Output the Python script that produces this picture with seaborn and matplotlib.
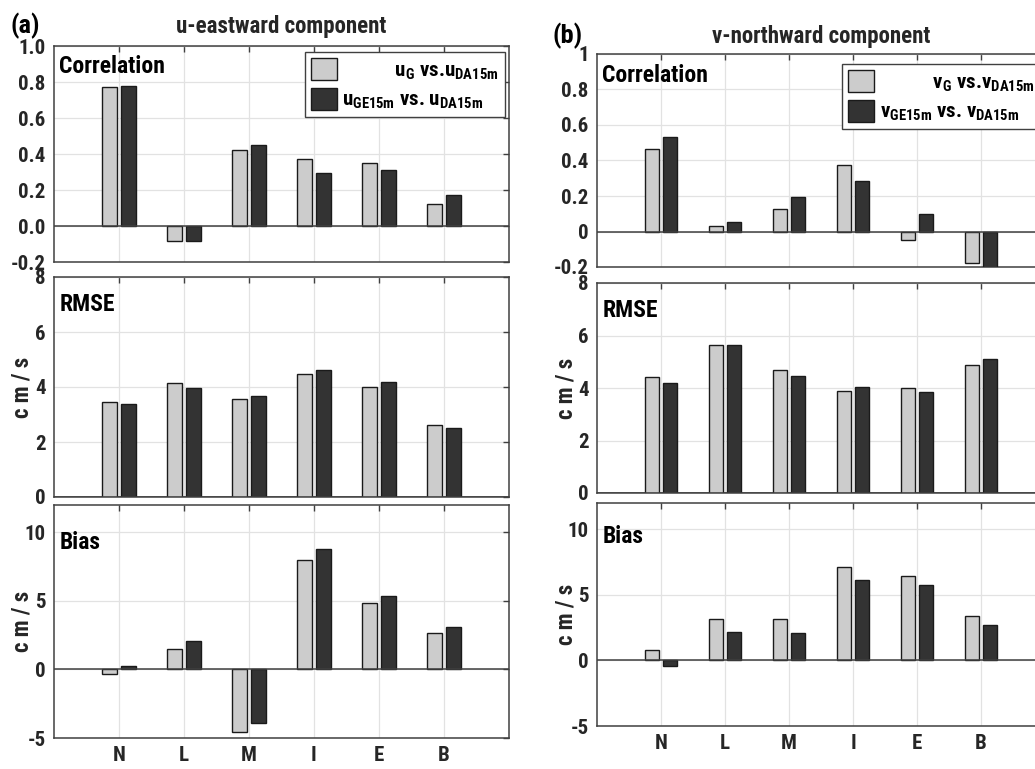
import numpy as np
import pandas as pd
import matplotlib
matplotlib.use("Agg")
import matplotlib.pyplot as plt
from matplotlib import font_manager as fm
import seaborn as sns

# ---------------- data ----------------
sites = ["N", "L", "M", "I", "E", "B"]

u_corr_G = [0.77, -0.085, 0.42, 0.375, 0.35, 0.125]
u_corr_GE = [0.78, -0.085, 0.452, 0.297, 0.311, 0.171]
u_rmse_G = [3.44, 4.16, 3.55, 4.48, 4.01, 2.62]
u_rmse_GE = [3.39, 3.96, 3.66, 4.63, 4.17, 2.52]
u_bias_G = [-0.31, 1.52, -4.59, 8.02, 4.88, 2.63]
u_bias_GE = [0.22, 2.10, -3.89, 8.77, 5.39, 3.07]

v_corr_G = [0.464, 0.032, 0.125, 0.372, -0.047, -0.178]
v_corr_GE = [0.535, 0.054, 0.193, 0.286, 0.101, -0.21]
v_rmse_G = [4.42, 5.62, 4.69, 3.90, 4.00, 4.89]
v_rmse_GE = [4.20, 5.63, 4.47, 4.05, 3.85, 5.11]
v_bias_G = [0.76, 3.16, 3.16, 7.10, 6.46, 3.36]
v_bias_GE = [-0.43, 2.20, 2.10, 6.16, 5.76, 2.73]

u_labels = ["           $u_{G}$ vs.$u_{DA15m}$", "$u_{GE15m}$ vs. $u_{DA15m}$"]
v_labels = ["           $v_{G}$ vs.$v_{DA15m}$", "$v_{GE15m}$ vs. $v_{DA15m}$"]

corr_ticks = [-0.2, 0.0, 0.2, 0.4, 0.6, 0.8, 1.0]
u_corr_ticklabels = ["-0.2", "0.0", "0.2", "0.4", "0.6", "0.8", "1.0"]
v_corr_ticklabels = ["-0.2", "0", "0.2", "0.4", "0.6", "0.8", "1"]
rmse_ticks = [0, 2, 4, 6, 8]
bias_ticks = [-5, 0, 5, 10]

# ---------------- fonts ----------------
sns.set_style("white")
_ttf = fm.fontManager.ttflist
names = {f.name for f in _ttf}
has_dv_cond = any(f.name == "DejaVu Sans" and "condensed" in str(f.stretch) for f in _ttf)
if "Roboto Condensed" in names:
    FAM, STRETCH, SCALE = "Roboto Condensed", "normal", 1.0
elif "Liberation Sans Narrow" in names:
    FAM, STRETCH, SCALE = "Liberation Sans Narrow", "normal", 1.05
elif has_dv_cond:
    FAM, STRETCH, SCALE = "DejaVu Sans", "condensed", 0.95
elif "Roboto" in names:
    FAM, STRETCH, SCALE = "Roboto", "normal", 0.93
else:
    FAM, STRETCH, SCALE = "DejaVu Sans", "normal", 0.82
plt.rcParams["font.family"] = [FAM, "DejaVu Sans"]
plt.rcParams["font.stretch"] = STRETCH
plt.rcParams["font.weight"] = "bold"
plt.rcParams["mathtext.fontset"] = "custom"
plt.rcParams["mathtext.rm"] = f"{FAM}:bold"
plt.rcParams["mathtext.it"] = f"{FAM}:bold"
plt.rcParams["mathtext.bf"] = f"{FAM}:bold"
plt.rcParams["mathtext.default"] = "bf"


def fs(x):
    return x * SCALE


LIGHT = "#cccccc"
DARK = "#333333"
EDGE = "#1a1a1a"
SPINE = "#404040"
TXT = "#262626"

fig = plt.figure(figsize=(10.35, 7.69), dpi=100)
W, H = 1035.0, 769.0


def add_ax(left, top, right, bottom):
    return fig.add_axes([left / W, 1 - bottom / H, (right - left) / W, (bottom - top) / H])


def panel(ax, G, GE, labels, ylim, yticks, yticklabels, name, name_y,
          ylabel=False, ylabel_x=-0.06, xlabels=False, legend=False, leg_anchor=(0.99, 0.97)):
    df = pd.DataFrame({
        "site": sites * 2,
        "value": list(G) + list(GE),
        "series": [labels[0]] * len(sites) + [labels[1]] * len(sites),
    })
    sns.barplot(data=df, x="site", y="value", hue="series", hue_order=labels,
                palette=[LIGHT, DARK], width=0.56, gap=0.18, errorbar=None,
                edgecolor=EDGE, linewidth=1.0, ax=ax, legend=legend, zorder=3)
    ax.set_xlim(-1, 6)
    ax.set_ylim(*ylim)
    ax.set_yticks(yticks)
    ax.set_yticklabels(yticklabels)
    ax.set_xticks(range(len(sites)))
    if xlabels:
        ax.set_xticklabels(sites)
    else:
        ax.set_xticklabels([])
    ax.set_xlabel("")
    ax.set_ylabel("")
    ax.set_axisbelow(True)
    ax.grid(True, color="#e2e2e2", linewidth=0.9, zorder=0)
    ax.axhline(0, color=SPINE, linewidth=1.1, zorder=4)
    ax.tick_params(direction="in", length=4, width=1, color=SPINE, top=True, right=True,
                   labelsize=fs(15), labelcolor=TXT, pad=6)
    ax.tick_params(axis="x", pad=6, labelsize=fs(15))
    for lab in ax.get_xticklabels() + ax.get_yticklabels():
        lab.set_fontweight("bold")
    for s in ax.spines.values():
        s.set_color(SPINE)
        s.set_linewidth(1.1)
    ax.text(0.012, name_y, name, transform=ax.transAxes, ha="left", va="center",
            fontsize=fs(17), fontweight="bold", color="black", zorder=6)
    if ylabel:
        ax.set_ylabel("c m / s", fontsize=fs(16.5), fontweight="bold", color=TXT)
        ax.yaxis.set_label_coords(ylabel_x, 0.5)
        ax.yaxis.label.set_va("center")
    if legend:
        h, l = ax.get_legend_handles_labels()
        leg = ax.legend(h, l, loc="upper right", bbox_to_anchor=leg_anchor,
                        borderaxespad=0, fancybox=False, framealpha=1,
                        edgecolor=SPINE, fontsize=fs(15), handlelength=1.25,
                        handleheight=1.25, handletextpad=0.25, labelspacing=0.3,
                        borderpad=0.3)
        leg.get_frame().set_linewidth(1.0)
        leg.set_zorder(7)
        for t in leg.get_texts():
            t.set_color("black")


# left column (a)
ax1 = add_ax(54, 46, 509, 262)
ax2 = add_ax(54, 277, 509, 497)
ax3 = add_ax(54, 505, 509, 738)
# right column (b) - extends past the right edge like the reference crop
ax4 = add_ax(597, 54, 1045, 267)
ax5 = add_ax(597, 283, 1045, 493)
ax6 = add_ax(597, 503, 1045, 726)

panel(ax1, u_corr_G, u_corr_GE, u_labels, (-0.2, 1.0), corr_ticks, u_corr_ticklabels,
      "Correlation", 0.903, legend=True, leg_anchor=(0.991, 0.972))
panel(ax2, u_rmse_G, u_rmse_GE, u_labels, (0, 8), rmse_ticks, [str(t) for t in rmse_ticks],
      "RMSE", 0.873, ylabel=True, ylabel_x=-0.07)
panel(ax3, u_bias_G, u_bias_GE, u_labels, (-5, 12), bias_ticks, [str(t) for t in bias_ticks],
      "Bias", 0.841, ylabel=True, ylabel_x=-0.07, xlabels=True)

panel(ax4, v_corr_G, v_corr_GE, v_labels, (-0.2, 1.0), corr_ticks, v_corr_ticklabels,
      "Correlation", 0.897, legend=True, leg_anchor=(0.99, 0.953))
panel(ax5, v_rmse_G, v_rmse_GE, v_labels, (0, 8), rmse_ticks, [str(t) for t in rmse_ticks],
      "RMSE", 0.871, ylabel=True, ylabel_x=-0.07)
panel(ax6, v_bias_G, v_bias_GE, v_labels, (-5, 12), bias_ticks, [str(t) for t in bias_ticks],
      "Bias", 0.852, ylabel=True, ylabel_x=-0.07, xlabels=True)

ax1.set_title("u-eastward component", fontsize=fs(16.5), fontweight="bold", color=TXT, pad=9)
ax4.set_title("v-northward component", fontsize=fs(16.5), fontweight="bold", color=TXT, pad=8)

fig.text(11 / W, 1 - 33 / H, "(a)", fontsize=fs(19), fontweight="bold", color="black",
         ha="left", va="baseline")
fig.text(552 / W, 1 - 43 / H, "(b)", fontsize=fs(19), fontweight="bold", color="black",
         ha="left", va="baseline")

fig.savefig("out.png", dpi=100)
